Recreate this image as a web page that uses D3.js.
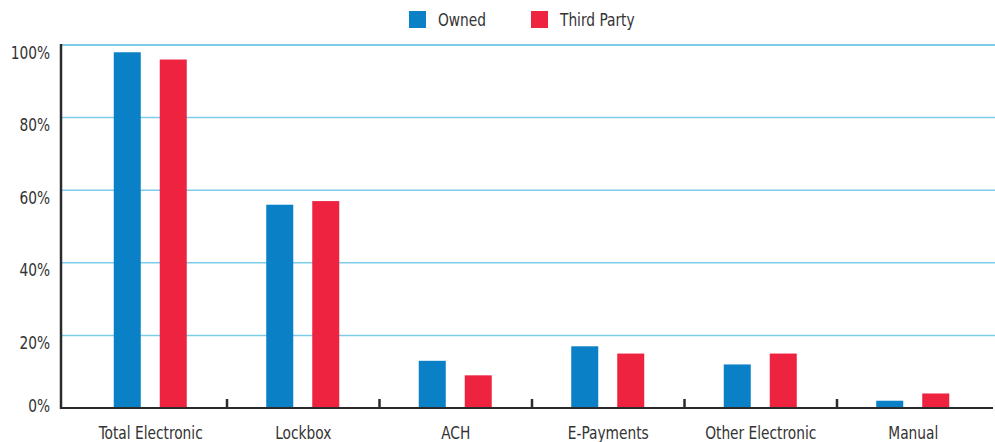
<!DOCTYPE html>
<html><head><meta charset="utf-8">
<script src="https://cdn.jsdelivr.net/npm/d3@7"></script>
<style>
html,body{margin:0;padding:0;background:#fff;}
text{font-family:"DejaVu Sans Condensed","Liberation Sans Narrow",sans-serif;fill:#333;}
</style></head>
<body><svg id="c" width="995" height="442"></svg>
<script>
const categories = ["Total Electronic","Lockbox","ACH","E-Payments","Other Electronic","Manual"];
const seriesNames = ["Owned","Third Party"];
const owned = [98,56,13,17,12,2];
const thirdParty = [96,57,9,15,15,4];
const yTicks = [0,20,40,60,80,100];
const colors = ["#0a80c6","#ee2340"];

const SX = 0.85, FS = 18;
const svg = d3.select("#c");
const x0 = d3.scaleBand().domain(categories).range([74.5,989.5]).paddingInner(0).paddingOuter(0);
const y = d3.scaleLinear().domain([0,100]).range([408,45]);
const x1 = d3.scaleBand().domain(seriesNames).range([-37,36]).paddingInner(0.413).paddingOuter(0);

// gridlines
svg.append("g").selectAll("line").data(yTicks.filter(d=>d>0)).join("line")
  .attr("x1",62).attr("x2",995).attr("y1",d=>y(d)).attr("y2",d=>y(d))
  .attr("stroke","#7dcdea").attr("stroke-width",d=>d===100?2:1.5);

// y labels
svg.append("g").selectAll("text").data(yTicks).join("text")
  .attr("transform",d=>`translate(50,${y(d)+(d===0?4:13.5)}) scale(${SX},1)`).attr("text-anchor","end")
  .attr("font-size",FS).text(d=>d+"%");

// bars
const data = categories.map((c,i)=>({c, vals:[owned[i],thirdParty[i]]}));
const groups = svg.append("g").selectAll("g").data(data).join("g")
  .attr("transform",d=>`translate(${x0(d.c)+x0.bandwidth()/2},0)`);
groups.selectAll("rect").data(d=>d.vals.map((v,j)=>({s:seriesNames[j],v,j}))).join("rect")
  .attr("x",d=>x1(d.s)).attr("width",x1.bandwidth())
  .attr("y",d=>y(d.v)).attr("height",d=>y(0)-y(d.v)+1)
  .attr("fill",d=>colors[d.j]);

// axes lines
svg.append("line").attr("x1",61).attr("x2",61).attr("y1",44).attr("y2",409)
  .attr("stroke","#2b2b2b").attr("stroke-width",2.5);
svg.append("line").attr("x1",60).attr("x2",993).attr("y1",408).attr("y2",408)
  .attr("stroke","#2b2b2b").attr("stroke-width",2);
// boundary ticks
svg.append("g").selectAll("line").data(categories.slice(1)).join("line")
  .attr("x1",d=>x0(d)).attr("x2",d=>x0(d)).attr("y1",399).attr("y2",408)
  .attr("stroke","#2b2b2b").attr("stroke-width",2.5);

// x labels
svg.append("g").selectAll("text").data(categories).join("text")
  .attr("transform",d=>`translate(${x0(d)+x0.bandwidth()/2},439) scale(${SX},1)`).attr("text-anchor","middle")
  .attr("font-size",FS).text(d=>d);

// legend
const legX = [409,531];
const leg = svg.append("g").selectAll("g").data(seriesNames).join("g")
  .attr("transform",(d,i)=>`translate(${legX[i]},11)`);
leg.append("rect").attr("width",17).attr("height",17).attr("fill",(d,i)=>colors[i]);
leg.append("text").attr("transform",`translate(29,15) scale(${SX},1)`).attr("font-size",FS).text(d=>d);
</script></body></html>
